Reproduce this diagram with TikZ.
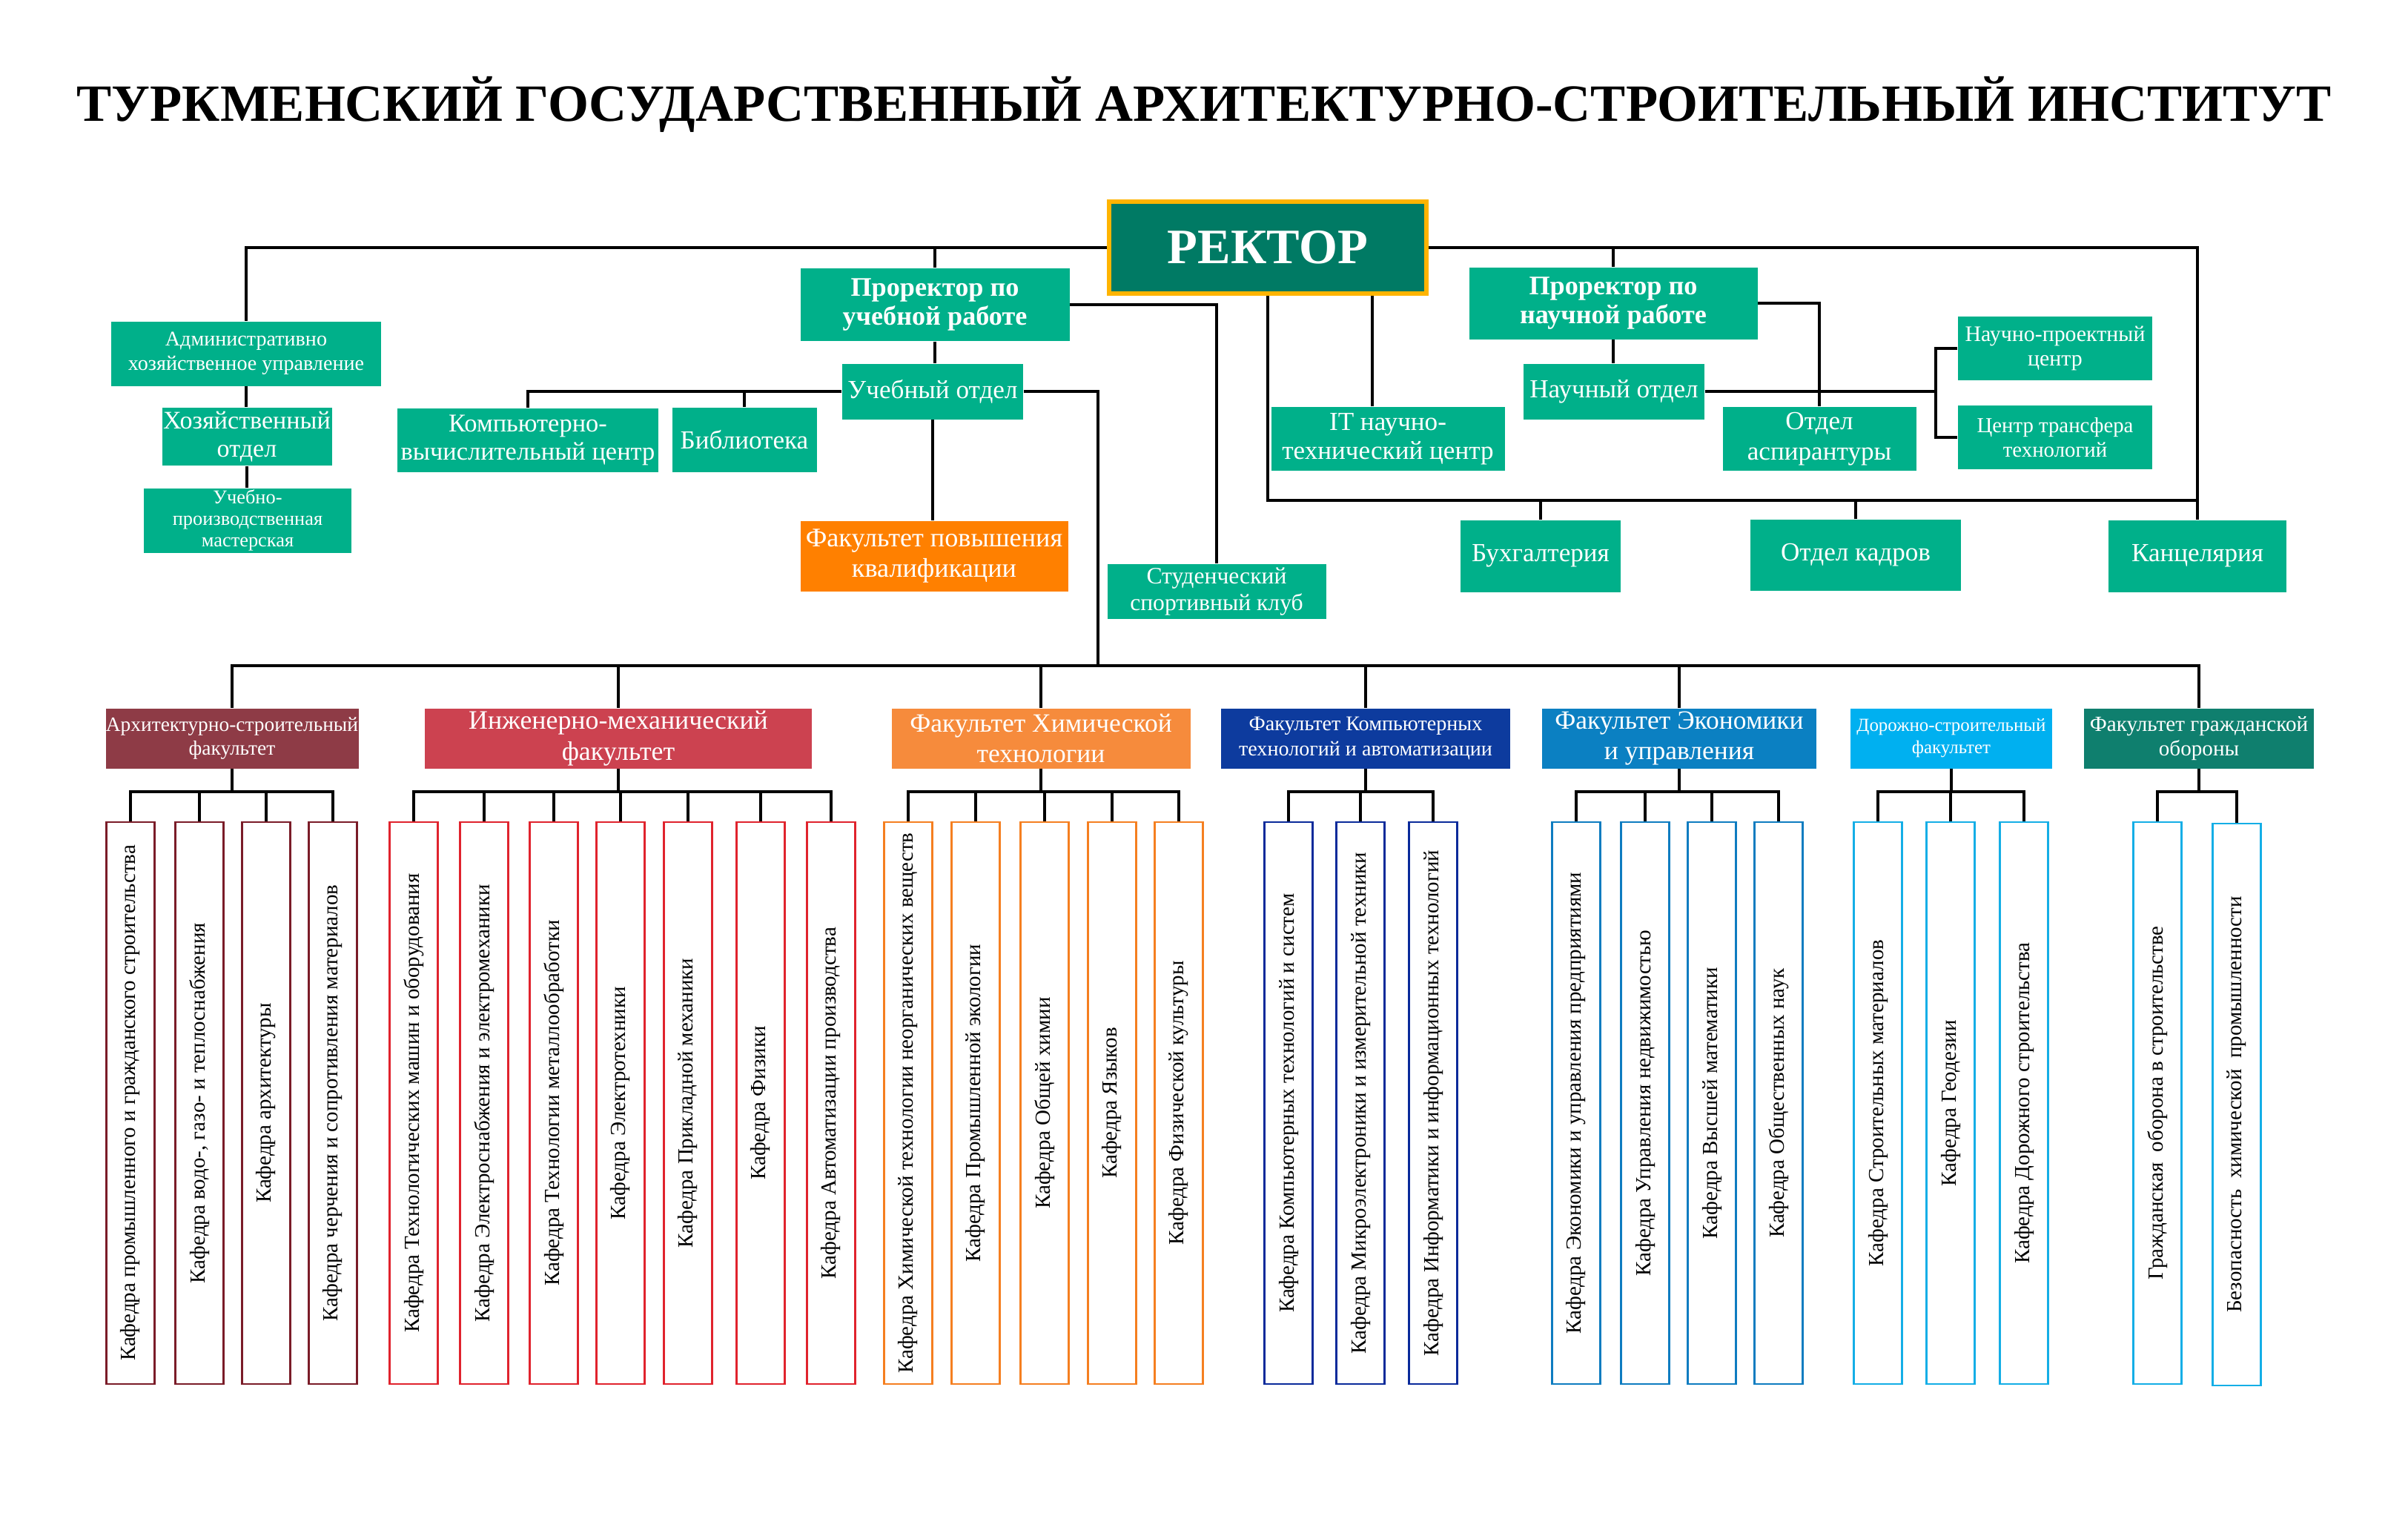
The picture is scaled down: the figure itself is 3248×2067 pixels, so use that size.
\documentclass[tikz,border=0pt]{standalone}
\usepackage{fontspec}
\setmainfont{Liberation Serif}
\definecolor{tealA}{RGB}{0,176,138}
\definecolor{rectf}{RGB}{0,122,100}
\definecolor{rectb}{RGB}{255,180,0}
\definecolor{orng}{RGB}{255,128,0}
\definecolor{facA}{RGB}{142,59,70}
\definecolor{facB}{RGB}{204,66,80}
\definecolor{facC}{RGB}{246,139,60}
\definecolor{facD}{RGB}{13,59,158}
\definecolor{facE}{RGB}{11,128,194}
\definecolor{facF}{RGB}{0,176,240}
\definecolor{facG}{RGB}{15,127,110}
\definecolor{kA}{RGB}{122,28,40}
\definecolor{kB}{RGB}{224,35,45}
\definecolor{kC}{RGB}{245,127,32}
\definecolor{kD}{RGB}{10,42,154}
\definecolor{kE}{RGB}{14,124,192}
\definecolor{kF}{RGB}{20,174,230}
\begin{document}
\begin{tikzpicture}[x=0.1mm,y=-0.1mm,
  conn/.style={line width=1.15pt, black},
  tbox/.style={fill=tealA, text=white, inner sep=0pt, align=center},
  fac/.style={inner sep=0pt, align=center, text=white, minimum height=8.1mm},
  kaf/.style={rotate=90, draw=#1, line width=0.7pt, fill=white, minimum width=75.8mm, minimum height=6.5mm, inner sep=0pt, font=\fontsize{8.25pt}{10pt}\selectfont}
]
\useasboundingbox[fill=white] (0,0) rectangle (3248,2067);

% title
\node[anchor=base, font=\bfseries\fontsize{20.1pt}{24pt}\selectfont] (title) at (1624,163) {ТУРКМЕНСКИЙ ГОСУДАРСТВЕННЫЙ АРХИТЕКТУРНО-СТРОИТЕЛЬНЫЙ ИНСТИТУТ};

% top level
\node[draw=rectb, line width=1.6pt, fill=rectf, text=white, inner sep=0pt, minimum width=42.8mm, minimum height=12.4mm, font=\bfseries\fontsize{19pt}{22pt}\selectfont] (rector) at (1710,334) {РЕКТОР};

\node[tbox, minimum width=36.3mm, minimum height=9.8mm, font=\bfseries\fontsize{10.3pt}{11.3pt}\selectfont] (pru) at (1261,411) {Проректор по\\учебной работе};
\node[tbox, minimum width=24.4mm, minimum height=7.5mm, font=\fontsize{10pt}{11pt}\selectfont] (uo) at (1258,528) {Учебный отдел};
\node[tbox, minimum width=36.4mm, minimum height=8.7mm, font=\fontsize{8pt}{9.4pt}\selectfont] (adm) at (332,477) {Административно\\хозяйственное управление};
\node[tbox, minimum width=22.9mm, minimum height=7.8mm, font=\fontsize{9.7pt}{10.6pt}\selectfont] (hoz) at (333,589) {Хозяйственный\\отдел};
\node[tbox, minimum width=28mm, minimum height=8.7mm, font=\fontsize{7.5pt}{8.3pt}\selectfont] (upm) at (334,702) {Учебно-\\производственная\\мастерская};
\node[tbox, minimum width=35.2mm, minimum height=8.6mm, font=\fontsize{9.8pt}{10.8pt}\selectfont] (kvc) at (712,594) {Компьютерно-\\вычислительный центр};
\node[tbox, minimum width=19.5mm, minimum height=8.7mm, font=\fontsize{10pt}{11pt}\selectfont] (bib) at (1004,593) {Библиотека};
\node[tbox, fill=orng, minimum width=36.1mm, minimum height=9.5mm, font=\fontsize{10.3pt}{11.5pt}\selectfont] (fpk) at (1260,750) {Факультет повышения\\квалификации};
\node[tbox, minimum width=29.5mm, minimum height=7.4mm, font=\fontsize{9pt}{10pt}\selectfont] (ssk) at (1641,798) {Студенческий\\спортивный клуб};
\node[tbox, minimum width=31.5mm, minimum height=8.6mm, font=\fontsize{10pt}{11pt}\selectfont] (itc) at (1872,592) {IT научно-\\технический центр};
\node[tbox, minimum width=38.9mm, minimum height=9.7mm, font=\bfseries\fontsize{10.3pt}{11.3pt}\selectfont] (prn) at (2176,409) {Проректор по\\научной работе};
\node[tbox, minimum width=24.4mm, minimum height=7.5mm, font=\fontsize{10pt}{11pt}\selectfont] (no) at (2177,528) {Научный отдел};
\node[tbox, minimum width=26.1mm, minimum height=8.6mm, font=\fontsize{10pt}{11.5pt}\selectfont] (asp) at (2454,592) {Отдел\\аспирантуры};
\node[tbox, minimum width=26.2mm, minimum height=8.6mm, font=\fontsize{8.5pt}{9.6pt}\selectfont] (npc) at (2772,470) {Научно-проектный\\центр};
\node[tbox, minimum width=26.2mm, minimum height=8.6mm, font=\fontsize{8.2pt}{9.4pt}\selectfont] (ctt) at (2772,590) {Центр трансфера\\технологий};
\node[tbox, minimum width=21.6mm, minimum height=9.7mm, font=\fontsize{10pt}{11pt}\selectfont] (buh) at (2078,750) {Бухгалтерия};
\node[tbox, minimum width=28.4mm, minimum height=9.6mm, font=\fontsize{10pt}{11pt}\selectfont] (kadr) at (2503,749) {Отдел кадров};
\node[tbox, minimum width=24mm, minimum height=9.7mm, font=\fontsize{10pt}{11pt}\selectfont] (kanc) at (2964,750) {Канцелярия};

% faculties
\node[fac, fill=facA, minimum width=34.1mm, font=\fontsize{7.8pt}{9.2pt}\selectfont] (f1) at (313,996) {Архитектурно-строительный\\факультет};
\node[fac, fill=facB, minimum width=52.2mm, font=\fontsize{10.2pt}{11.8pt}\selectfont] (f2) at (834,996) {Инженерно-механический\\факультет};
\node[fac, fill=facC, minimum width=40.3mm, font=\fontsize{10.1pt}{11.5pt}\selectfont] (f3) at (1404,996) {Факультет Химической\\технологии};
\node[fac, fill=facD, minimum width=39mm, font=\fontsize{8pt}{9.4pt}\selectfont] (f4) at (1842,996) {Факультет Компьютерных\\технологий и автоматизации};
\node[fac, fill=facE, minimum width=37mm, font=\fontsize{10.1pt}{11.5pt}\selectfont] (f5) at (2265,996) {Факультет Экономики\\и управления};
\node[fac, fill=facF, minimum width=27.2mm, font=\fontsize{7.1pt}{8.6pt}\selectfont] (f6) at (2632,996) {Дорожно-строительный\\факультет};
\node[fac, fill=facG, minimum width=31mm, font=\fontsize{8.3pt}{9.5pt}\selectfont] (f7) at (2966,996) {Факультет гражданской\\обороны};

% kafedry
\node[kaf=kA] (k1) at (176,1488) {Кафедра промышленного и гражданского строительства};
\node[kaf=kA] (k2) at (269,1488) {Кафедра водо-, газо- и теплоснабжения};
\node[kaf=kA] (k3) at (359,1488) {Кафедра архитектуры};
\node[kaf=kA] (k4) at (449,1488) {Кафедра черчения и сопротивления материалов};
\node[kaf=kB] (k5) at (558,1488) {Кафедра Технологических машин и оборудования};
\node[kaf=kB] (k6) at (653,1488) {Кафедра Электроснабжения и электромеханики};
\node[kaf=kB] (k7) at (747,1488) {Кафедра Технологии металлообработки};
\node[kaf=kB] (k8) at (837,1488) {Кафедра Электротехники};
\node[kaf=kB] (k9) at (928,1488) {Кафедра Прикладной механики};
\node[kaf=kB] (k10) at (1026,1488) {Кафедра Физики};
\node[kaf=kB] (k11) at (1121,1488) {Кафедра Автоматизации производства};
\node[kaf=kC] (k12) at (1225,1488) {Кафедра Химической технологии неорганических веществ};
\node[kaf=kC] (k13) at (1316,1488) {Кафедра Промышленной экологии};
\node[kaf=kC] (k14) at (1409,1488) {Кафедра Общей химии};
\node[kaf=kC] (k15) at (1500,1488) {Кафедра Языков};
\node[kaf=kC] (k16) at (1590,1488) {Кафедра Физической культуры};
\node[kaf=kD] (k17) at (1738,1488) {Кафедра Компьютерных технологий и систем};
\node[kaf=kD] (k18) at (1835,1488) {Кафедра Микроэлектроники и измерительной техники};
\node[kaf=kD] (k19) at (1933,1488) {Кафедра Информатики и информационных технологий};
\node[kaf=kE] (k20) at (2126,1488) {Кафедра Экономики и управления предприятиями};
\node[kaf=kE] (k21) at (2219,1488) {Кафедра Управления недвижимостью};
\node[kaf=kE] (k22) at (2309,1488) {Кафедра Высшей математики};
\node[kaf=kE] (k23) at (2399,1488) {Кафедра Общественных наук};
\node[kaf=kF] (k24) at (2533,1488) {Кафедра Строительных материалов};
\node[kaf=kF] (k25) at (2631,1488) {Кафедра Геодезии};
\node[kaf=kF] (k26) at (2730,1488) {Кафедра Дорожного строительства};
\node[kaf=kF] (k27) at (2910,1488) {Гражданская\ \ оборона в строительстве};
\node[kaf=kF] (k28) at (3017,1490) {Безопасность\ \ химической\ \ промышленности};

% connectors: administration
\draw[conn] (adm.north) |- (rector.west);
\draw[conn] (rector.east) -| (kanc.north);
\draw[conn] (pru.north) -- (pru.north |- rector.west);
\draw[conn] (prn.north) -- (prn.north |- rector.west);
\draw[conn] (adm.south) -- (adm.south |- hoz.north);
\draw[conn] (hoz.south) -- (hoz.south |- upm.north);
\draw[conn] (pru.east) -| (ssk.north);
\draw[conn] (pru.south) -- (pru.south |- uo.north);
\draw[conn] (uo.west) -| (kvc.north);
\draw[conn] (bib.north) -- (bib.north |- uo.west);
\draw[conn] (uo.south) -- (uo.south |- fpk.north);
\coordinate (ujunc) at (1481,898);
\draw[conn] (uo.east) -| (ujunc);
\coordinate (lowbus) at (0,675);
\draw[conn] (rector.south) -- (rector.south |- lowbus) -- (kanc.north |- lowbus);
\draw[conn] (buh.north) -- (buh.north |- lowbus);
\draw[conn] (kadr.north) -- (kadr.north |- lowbus);
\draw[conn] ([xshift=-2.1mm]itc.north) -- ([xshift=-2.1mm]itc.north |- rector.south);
\draw[conn] (prn.east) -| (asp.north);
\draw[conn] (prn.south) -- (prn.south |- no.north);
\coordinate (brk) at (2611,528);
\draw[conn] (no.east) -- (brk);
\draw[conn] (npc.west) -| (brk) |- (ctt.west);

% faculty bus
\coordinate (bus) at (0,898);
\draw[conn] (f1.north) -- (f1.north |- bus) -- (f7.north |- bus) -- (f7.north);
\foreach \f in {f2,f3,f4,f5} \draw[conn] (\f.north) -- (\f.north |- bus);

% sub-buses
\coordinate (sb) at (0,1068);
\foreach \f in {f1,f2,f3,f4,f5,f6,f7} \draw[conn] (\f.south) -- (\f.south |- sb);
\draw[conn] (k1.east) |- (k4.east |- sb) -- (k4.east);
\foreach \k in {k2,k3} \draw[conn] (\k.east) -- (\k.east |- sb);
\draw[conn] (k5.east) |- (k11.east |- sb) -- (k11.east);
\foreach \k in {k6,k7,k8,k9,k10} \draw[conn] (\k.east) -- (\k.east |- sb);
\draw[conn] (k12.east) |- (k16.east |- sb) -- (k16.east);
\foreach \k in {k13,k14,k15} \draw[conn] (\k.east) -- (\k.east |- sb);
\draw[conn] (k17.east) |- (k19.east |- sb) -- (k19.east);
\draw[conn] (k18.east) -- (k18.east |- sb);
\draw[conn] (k20.east) |- (k23.east |- sb) -- (k23.east);
\foreach \k in {k21,k22} \draw[conn] (\k.east) -- (\k.east |- sb);
\draw[conn] (k24.east) |- (k26.east |- sb) -- (k26.east);
\draw[conn] (k25.east) -- (k25.east |- sb);
\draw[conn] (k27.east) |- (k28.east |- sb) -- (k28.east);
\end{tikzpicture}
\end{document}
